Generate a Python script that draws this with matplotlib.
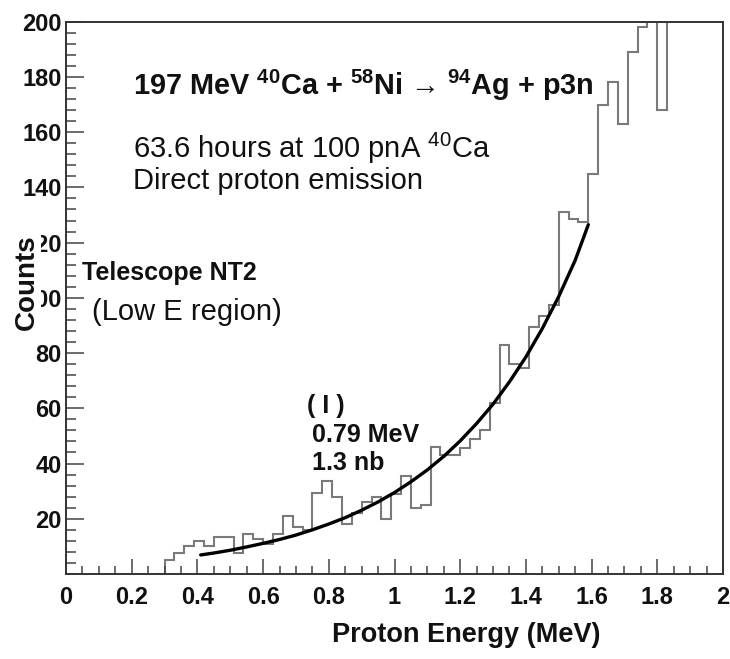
import numpy as np
import matplotlib
matplotlib.use("Agg")
import matplotlib.pyplot as plt
from matplotlib.ticker import MultipleLocator, FixedLocator, FixedFormatter

# ---------------- data ----------------
bin_start = 0.30          # MeV, left edge of first non-empty bin
bin_width = 0.03          # MeV
counts = [5, 7.5, 10, 12, 10, 13.5, 13.5, 7.5, 14.5, 12.5,
          11, 14.5, 21, 17, 16, 29.5, 33.5, 28, 18, 22,
          26, 28, 20, 29, 35.5, 24, 25, 46, 43, 43,
          45.5, 49, 52, 62, 83, 76, 74.5, 89.5, 93.5, 97.5,
          131, 128.5, 127.5, 145, 170, 178, 163, 189, 198, 210,
          168, 210]

fit_energy = [0.41, 0.45, 0.50, 0.55, 0.60, 0.65, 0.70, 0.75, 0.80, 0.85,
              0.90, 0.95, 1.00, 1.05, 1.10, 1.15, 1.20, 1.25, 1.30, 1.35,
              1.40, 1.45, 1.50, 1.55, 1.59]
fit_counts = [6.9, 7.6, 8.6, 9.8, 11.1, 12.5, 14.1, 16.0, 18.1, 20.4,
              23.1, 26.1, 29.5, 33.4, 37.7, 42.6, 48.2, 54.5, 61.5, 69.6,
              78.6, 88.9, 100.5, 113.6, 126.5]

x_ticks = [0, 0.2, 0.4, 0.6, 0.8, 1.0, 1.2, 1.4, 1.6, 1.8, 2.0]
x_labels = ["0", "0.2", "0.4", "0.6", "0.8", "1", "1.2", "1.4", "1.6", "1.8", "2"]
y_ticks = [20, 40, 60, 80, 100, 120, 140, 160, 180, 200]
y_labels = [str(v) for v in y_ticks]

# ---------------- style ----------------
FONT = ["Liberation Sans", "DejaVu Sans"]
TICKFONT = ["Liberation Sans Narrow", "Liberation Sans", "DejaVu Sans"]
plt.rcParams["font.family"] = FONT
plt.rcParams["mathtext.fontset"] = "custom"
plt.rcParams["mathtext.rm"] = "Liberation Sans"
plt.rcParams["mathtext.bf"] = "Liberation Sans:bold"

W, H = 730, 659
fig = plt.figure(figsize=(W / 100, H / 100), dpi=100)
fig.patch.set_facecolor("white")

def fx(px):
    return px / W

def fy(py):
    return 1 - py / H

left, right, top, bottom = 66, 723, 21.7, 574
ax = fig.add_axes([fx(left), fy(bottom), fx(right) - fx(left), fy(top) - fy(bottom)])

# histogram (with an empty leading bin so the first edge rises from zero)
edges = bin_start + bin_width * np.arange(-1, len(counts) + 1)
ax.stairs([0] + counts, edges, baseline=None, color="#7a7a7a", linewidth=1.5)

ax.plot(fit_energy, fit_counts, color="black", linewidth=2.4, solid_capstyle="round")

ax.set_xlim(0, 2.0)
ax.set_ylim(0, 200)

for s in ax.spines.values():
    s.set_color("#333333")
    s.set_linewidth(1.4)

ax.xaxis.set_major_locator(FixedLocator(x_ticks))
ax.xaxis.set_major_formatter(FixedFormatter(x_labels))
ax.xaxis.set_minor_locator(MultipleLocator(0.05))
ax.yaxis.set_major_locator(FixedLocator(y_ticks))
ax.yaxis.set_major_formatter(FixedFormatter(y_labels))
ax.yaxis.set_minor_locator(MultipleLocator(4))

ax.tick_params(axis="x", which="major", direction="in", length=11, width=1.1,
               color="#444444", labelsize=17, pad=9)
ax.tick_params(axis="x", which="minor", direction="in", length=5.5, width=1.1, color="#444444")
ax.tick_params(axis="y", which="major", direction="in", length=13, width=1.1,
               color="#444444", labelsize=17, pad=3)
ax.tick_params(axis="y", which="minor", direction="in", length=7, width=1.1, color="#444444")
for lab in ax.get_xticklabels() + ax.get_yticklabels():
    lab.set_color("#111111")
    lab.set_family(TICKFONT)
    lab.set_fontweight("bold")

# ---------------- texts ----------------
fig.text(fx(466), fy(635), "Proton Energy (MeV)", ha="center", va="center",
         fontsize=19.5, fontweight="bold", color="#111111")
fig.text(fx(27), fy(282), "Counts", ha="center", va="center", rotation=90,
         fontsize=20, fontweight="bold", color="#111111",
         bbox=dict(facecolor="white", edgecolor="none", pad=0.5))

fig.text(fx(133), fy(95),
         r"197 MeV $^{\mathbf{40}}$Ca + $^{\mathbf{58}}$Ni → $^{\mathbf{94}}$Ag + p3n",
         ha="left", va="baseline", fontsize=20.8, fontweight="bold", color="#111111")
fig.text(fx(133), fy(158), r"63.6 hours at 100 pnA $^{40}$Ca",
         ha="left", va="baseline", fontsize=21, color="#111111")
fig.text(fx(133), fy(189), "Direct proton emission",
         ha="left", va="baseline", fontsize=21, color="#111111")

fig.text(fx(82), fy(280), "Telescope NT2", ha="left", va="baseline",
         fontsize=18, fontweight="bold", color="#111111")
fig.text(fx(92), fy(320), "(Low E region)", ha="left", va="baseline",
         fontsize=21, color="#111111")

fig.text(fx(307), fy(413), "( I )", ha="left", va="baseline",
         fontsize=18, fontweight="bold", color="#111111")
fig.text(fx(312), fy(442), "0.79 MeV", ha="left", va="baseline",
         fontsize=18, fontweight="bold", color="#111111")
fig.text(fx(312), fy(470), "1.3 nb", ha="left", va="baseline",
         fontsize=18, fontweight="bold", color="#111111")

fig.savefig("out.png", dpi=100, facecolor="white")
